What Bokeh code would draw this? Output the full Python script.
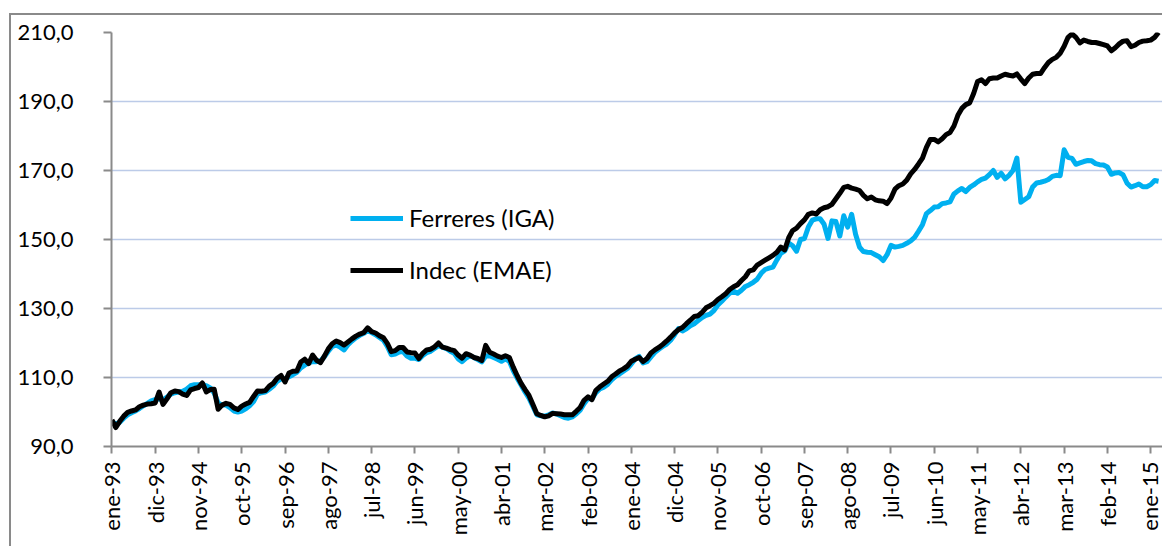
from bokeh.plotting import figure
from bokeh.models import FixedTicker, CustomJSTickFormatter, Legend, LegendItem, Range1d, InlineStyleSheet
from bokeh.embed import file_html
from bokeh.resources import INLINE
import math

# Monthly index, ene-93 .. mar-15
indec = [
    97.7, 95.5, 97.3, 98.8, 99.9, 100.3, 100.6, 101.5, 102.0, 102.3, 102.4, 102.6,
    105.8, 102.2, 103.8, 105.6, 106.1, 105.9, 105.2, 104.8, 106.4, 106.8, 107.1, 108.4,
    105.8, 106.5, 106.6, 100.8, 102.0, 102.5, 102.2, 101.2, 100.7, 101.7, 102.3, 102.8,
    104.5, 106.1, 106.0, 106.2, 107.5, 108.3, 109.8, 110.6, 108.7, 111.3, 111.8, 111.9,
    114.5, 115.3, 114.0, 116.5, 115.0, 114.3, 116.2, 118.3, 119.8, 120.6, 120.1, 119.4,
    120.3, 121.2, 122.0, 122.6, 123.0, 124.4, 123.3, 122.9, 122.1, 121.5, 119.9, 117.5,
    117.8, 118.7, 118.7, 117.4, 117.2, 117.1, 115.5, 117.0, 118.0, 118.2, 118.9, 120.0,
    118.8, 118.5, 118.1, 117.8, 116.5, 115.6, 116.9, 116.5, 115.8, 115.5, 114.9, 119.3,
    117.3, 116.8, 116.2, 115.8, 116.3, 115.8, 113.0, 110.5, 108.3, 106.5, 104.8, 102.2,
    99.5, 99.0, 98.6, 98.9, 99.6, 99.5, 99.4, 99.2, 99.2, 99.2, 100.2, 101.3,
    103.4, 104.4, 103.6, 106.3, 107.3, 108.1, 108.9, 110.2, 111.0, 111.9, 112.5, 113.3,
    114.7, 115.3, 115.8, 114.6, 115.5, 117.1, 118.0, 118.7, 119.6, 120.6, 121.7, 122.9,
    123.9, 124.5, 125.6, 126.6, 127.7, 127.9, 128.9, 130.2, 130.8, 131.5, 132.6, 133.4,
    134.3, 135.5, 136.3, 136.9, 138.1, 139.2, 140.9, 141.2, 142.6, 143.3, 144.0, 144.7,
    145.4, 146.3, 147.8, 147.0, 150.5, 152.6, 153.3, 154.6, 155.7, 157.3, 157.7, 157.4,
    158.6, 159.2, 159.5, 160.2, 161.8, 163.4, 165.1, 165.4, 164.9, 164.6, 164.2, 162.8,
    161.8, 162.3, 161.5, 161.2, 161.1, 160.4, 162.0, 164.6, 165.6, 166.1, 167.2, 169.0,
    170.3, 171.9, 173.6, 176.7, 179.0, 179.0, 178.3, 179.2, 180.4, 181.0, 182.9, 186.0,
    188.0, 189.1, 189.6, 192.3, 195.8, 196.3, 195.2, 196.6, 196.8, 196.8, 197.4, 197.9,
    197.6, 197.4, 198.0, 196.5, 195.2, 196.8, 197.9, 198.1, 198.1, 199.8, 201.3, 202.2,
    202.8, 204.0, 206.0, 208.6, 209.6, 208.6, 207.0, 207.8, 207.4, 207.1, 207.1, 206.8,
    206.5, 206.1, 204.7, 205.6, 206.7, 207.5, 207.6, 205.9, 206.3, 207.1, 207.5, 207.6,
    207.8, 208.6, 210.0,
]

ferreres = [
    97.2, 96.5, 97.0, 98.2, 99.2, 99.8, 100.3, 101.0, 101.8, 102.5, 103.2, 103.6,
    103.8, 103.5, 104.3, 105.2, 105.6, 105.8, 106.0, 106.6, 107.6, 107.9, 107.9, 108.0,
    107.6, 107.0, 105.5, 102.6, 102.0, 102.0, 101.3, 100.3, 100.0, 100.3, 100.9, 101.8,
    103.0, 105.2, 105.6, 105.8, 106.6, 107.5, 108.9, 109.6, 109.6, 110.2, 110.8, 111.5,
    112.8, 113.6, 114.2, 114.6, 114.6, 114.8, 116.0, 117.6, 119.0, 119.4, 118.8, 118.0,
    119.5, 120.6, 121.5, 122.2, 122.8, 123.6, 123.0, 122.4, 121.6, 120.8, 119.0, 116.6,
    116.8, 117.4, 117.5, 116.2, 115.6, 115.6, 115.2, 116.4, 117.2, 117.6, 118.4, 119.2,
    118.8, 118.4, 117.6, 117.0, 115.4, 114.6, 115.6, 116.3, 115.8, 115.2, 114.5, 116.2,
    116.3, 115.8, 115.3, 114.7, 115.4, 114.7, 112.0, 109.8, 107.8, 105.8, 104.0, 101.6,
    99.2, 98.9, 98.8, 99.2, 99.7, 99.4, 98.9, 98.4, 98.2, 98.6, 99.4, 100.5,
    102.4, 103.9, 103.8, 105.6, 106.7, 107.2, 108.0, 109.3, 110.3, 111.0, 111.8, 112.6,
    113.9, 115.4, 116.1, 114.2, 114.6, 116.0, 117.3, 118.2, 119.0, 119.7, 120.8, 122.4,
    124.2, 123.5, 124.1, 125.0, 125.6, 126.5, 127.4, 128.0, 128.4, 129.4, 131.0, 132.1,
    133.3, 134.4, 135.0, 134.4, 135.3, 136.4, 136.9, 137.6, 138.5, 140.2, 141.3, 141.7,
    142.0, 144.1, 146.0, 146.7, 149.0, 148.2, 146.6, 150.0, 150.3, 153.6, 155.6, 156.0,
    156.0, 154.4, 150.3, 155.4, 155.2, 151.0, 156.9, 153.6, 157.3, 151.5, 147.8, 146.5,
    146.3, 146.2, 145.6, 145.0, 143.9, 145.6, 148.3, 147.8, 148.0, 148.3, 148.9, 149.6,
    150.6, 152.4, 154.3, 157.5, 158.4, 159.4, 159.5, 160.4, 160.6, 160.9, 163.2, 164.1,
    164.8, 163.9, 165.1, 165.8, 166.7, 167.4, 167.8, 168.8, 170.0, 168.0, 169.2, 167.6,
    168.6, 170.0, 173.6, 160.8, 161.6, 162.4, 165.2, 166.4, 166.6, 166.9, 167.4, 168.3,
    168.6, 168.5, 176.0, 173.8, 173.5, 171.8, 172.2, 172.6, 172.9, 172.8, 172.0, 171.7,
    171.6, 171.0, 168.9, 169.3, 169.4, 168.7, 166.3, 165.2, 165.6, 166.1, 165.3, 165.3,
    165.9, 167.1, 166.9,
]

tick_labels = ["ene-93", "dic-93", "nov-94", "oct-95", "sep-96", "ago-97", "jul-98",
               "jun-99", "may-00", "abr-01", "mar-02", "feb-03", "ene-04", "dic-04",
               "nov-05", "oct-06", "sep-07", "ago-08", "jul-09", "jun-10", "may-11",
               "abr-12", "mar-13", "feb-14", "ene-15"]
y_ticks = [90, 110, 130, 150, 170, 190, 210]

series_names = ["Ferreres (IGA)", "Indec (EMAE)"]

months = list(range(len(indec)))
tick_pos = [i * 11 for i in range(len(tick_labels))]

FONT = "Lato"

p = figure(width=1153, height=533, output_backend="svg", toolbar_location=None,
           x_range=Range1d(-0.1, 267.0), y_range=Range1d(90, 210),
           min_border_left=100, min_border_right=2, min_border_top=17, min_border_bottom=102)
p.outline_line_color = None
p.background_fill_color = "white"
p.border_fill_color = "white"
p.stylesheets = [InlineStyleSheet(css=(
    ":host { border-left: 2px solid #8a8a8a !important; border-top: 2px solid #8a8a8a !important; "
    "margin-left: 9px !important; margin-top: 13px !important; }"))]

r_f = p.line(months, ferreres, line_color="#00B0F0", line_width=5, line_join="round")
r_i = p.line(months, indec, line_color="#000000", line_width=5, line_join="round")

# axes
p.xaxis.ticker = FixedTicker(ticks=tick_pos)
p.xaxis.major_label_overrides = {pos: lab for pos, lab in zip(tick_pos, tick_labels)}
p.xaxis.major_label_orientation = math.pi / 2
p.xaxis.minor_tick_line_color = None
p.xaxis.major_tick_in = 0
p.xaxis.major_tick_out = 7
p.xaxis.axis_line_color = "#8a8a8a"
p.xaxis.axis_line_width = 2
p.xaxis.major_tick_line_color = "#8a8a8a"
p.xaxis.major_tick_line_width = 2
p.xaxis.major_label_text_font = FONT
p.xaxis.major_label_text_font_size = "22px"
p.xaxis.major_label_text_color = "#000000"
p.xaxis.major_label_standoff = 8

p.yaxis.ticker = FixedTicker(ticks=y_ticks)
p.yaxis.formatter = CustomJSTickFormatter(code="return tick.toFixed(1).replace('.', ',');")
p.yaxis.minor_tick_line_color = None
p.yaxis.major_tick_in = 0
p.yaxis.major_tick_out = 8
p.yaxis.axis_line_color = "#8a8a8a"
p.yaxis.axis_line_width = 2
p.yaxis.major_tick_line_color = "#8a8a8a"
p.yaxis.major_tick_line_width = 2
p.yaxis.major_label_text_font = FONT
p.yaxis.major_label_text_font_size = "22px"
p.yaxis.major_label_text_color = "#000000"
p.yaxis.major_label_standoff = 30

p.xgrid.grid_line_color = None
p.ygrid.grid_line_color = "#BCCBE8"
p.ygrid.grid_line_width = 1.5

legend = Legend(items=[LegendItem(label=series_names[0], renderers=[r_f]),
                       LegendItem(label=series_names[1], renderers=[r_i])],
                location=(239, 162))
legend.background_fill_alpha = 0
legend.border_line_alpha = 0
legend.padding = 0
legend.margin = 0
legend.glyph_width = 53
legend.glyph_height = 20
legend.label_standoff = 6
legend.spacing = 23
legend.label_text_font = FONT
legend.label_text_font_size = "24px"
legend.label_text_color = "#000000"
p.add_layout(legend, "center")

open("out.html", "w").write(file_html(p, INLINE))
